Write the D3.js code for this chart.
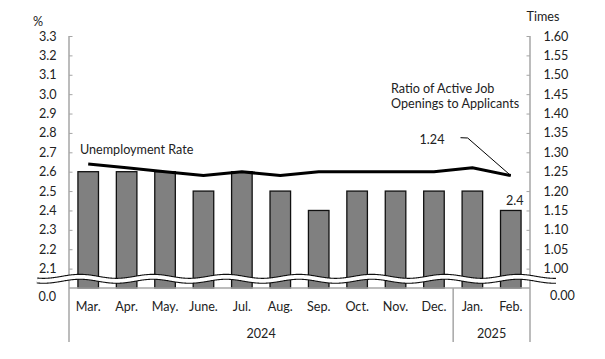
<!DOCTYPE html>
<html><head><meta charset="utf-8">
<script src="https://cdn.jsdelivr.net/npm/d3@7"></script>
<style>
html,body{margin:0;padding:0;background:#fff;}
text{font-family:Lato,"Open Sans",sans-serif;fill:#222;}
</style></head>
<body>
<svg id="c" width="605" height="359"></svg>
<script>
const months = ["Mar.","Apr.","May.","June.","Jul.","Aug.","Sep.","Oct.","Nov.","Dec.","Jan.","Feb."];
const years = [{label:"2024", from:0, to:9},{label:"2025", from:10, to:11}];
const unemployment = [2.6,2.6,2.6,2.5,2.6,2.5,2.4,2.5,2.5,2.5,2.5,2.4];
const ratio = [1.27,1.26,1.25,1.24,1.25,1.24,1.25,1.25,1.25,1.25,1.26,1.24];
const leftTicks = [2.1,2.2,2.3,2.4,2.5,2.6,2.7,2.8,2.9,3.0,3.1,3.2,3.3];
const rightTicks = [1.00,1.05,1.10,1.15,1.20,1.25,1.30,1.35,1.40,1.45,1.50,1.55,1.60];

const FS = "12.6px";
const svg = d3.select("#c");
const L = 69, R = 530, T = 36, B = 288, bottomExt = 342;
const axisColor = "#a6a6a6";

const x = d3.scaleBand().domain(months).range([L, R]).paddingInner(0.465).paddingOuter(0.2325);
const xc = d3.scaleBand().domain(months).range([L, R]).padding(0);
const yL = d3.scaleLinear().domain([2.0, 3.3]).range([B, T]);
const yR = d3.scaleLinear().domain([0.95, 1.60]).range([B, T]);

// bars
svg.append("g").selectAll("rect").data(unemployment).join("rect")
  .attr("x", (d,i)=>x(months[i])).attr("width", x.bandwidth())
  .attr("y", d=>yL(d)).attr("height", d=>B - yL(d))
  .attr("fill", "#808080").attr("stroke", "#111").attr("stroke-width", 1.3);

// left axis
const gL = svg.append("g").attr("transform", `translate(${L},0)`)
  .call(d3.axisRight(yL).tickValues(leftTicks).tickSize(3.5).tickFormat(d3.format(".1f")));
gL.select(".domain").remove();
gL.selectAll(".tick line").attr("stroke", axisColor);
gL.selectAll(".tick text").attr("x", -12.5).attr("text-anchor", "end")
  .style("font-size", FS).attr("fill", "#222");
svg.append("line").attr("x1", L).attr("x2", L).attr("y1", T).attr("y2", bottomExt)
  .attr("stroke", axisColor).attr("stroke-width", 1.5);

// right axis
const gR = svg.append("g").attr("transform", `translate(${R},0)`)
  .call(d3.axisLeft(yR).tickValues(rightTicks).tickSize(3.5).tickFormat(d3.format(".2f")));
gR.select(".domain").remove();
gR.selectAll(".tick line").attr("stroke", axisColor);
gR.selectAll(".tick text").attr("x", 13.5).attr("text-anchor", "start")
  .style("font-size", FS).attr("fill", "#222");
svg.append("line").attr("x1", R).attr("x2", R).attr("y1", T).attr("y2", bottomExt)
  .attr("stroke", axisColor).attr("stroke-width", 1.5);

// baseline and separator
svg.append("line").attr("x1", L).attr("x2", R).attr("y1", B).attr("y2", B)
  .attr("stroke", axisColor).attr("stroke-width", 1.5);
svg.append("line").attr("x1", xc(months[10])).attr("x2", xc(months[10])).attr("y1", B).attr("y2", bottomExt)
  .attr("stroke", axisColor).attr("stroke-width", 1.5);

// zero labels
svg.append("text").attr("x", 56).attr("y", 297).attr("dy", "0.35em").attr("text-anchor", "end")
  .style("font-size", FS).text("0.0");
svg.append("text").attr("x", 550).attr("y", 296).attr("dy", "0.35em").attr("text-anchor", "start")
  .style("font-size", FS).text("0.00");

// wavy break
const waveX0 = 37, waveX1 = 556, period = 73, peakX = 80, amp = 2, cy = 278.8;
const wavePts = d3.range(waveX0, waveX1 + 0.5, 1).map(px => [px, cy - amp * Math.cos(2*Math.PI*(px - peakX)/period)]);
const waveLine = d3.line().curve(d3.curveBasis);
svg.append("path").attr("d", waveLine(wavePts)).attr("fill", "none").attr("stroke", "#111").attr("stroke-width", 6);
svg.append("path").attr("d", waveLine(wavePts)).attr("fill", "none").attr("stroke", "#fff").attr("stroke-width", 3.8);

// ratio line
const line = d3.line().x((d,i)=>xc(months[i]) + xc.bandwidth()/2).y(d=>yR(d));
svg.append("path").datum(ratio).attr("d", line).attr("fill", "none")
  .attr("stroke", "#000").attr("stroke-width", 3).attr("stroke-linejoin", "round");

// category labels
svg.append("g").selectAll("text").data(months).join("text")
  .attr("x", d=>xc(d) + xc.bandwidth()/2).attr("y", 307).attr("dy", "0.35em")
  .attr("text-anchor", "middle").style("font-size", FS).text(d=>d);
svg.append("g").selectAll("text").data(years).join("text")
  .attr("x", d=>(xc(months[d.from]) + xc(months[d.to]) + xc.bandwidth())/2).attr("y", 334).attr("dy", "0.35em")
  .attr("text-anchor", "middle").style("font-size", FS).text(d=>d.label);

// unit labels
svg.append("text").attr("x", 38).attr("y", 22).attr("dy", "0.35em").attr("text-anchor", "middle")
  .style("font-size", FS).text("%");
svg.append("text").attr("x", 543).attr("y", 17).attr("dy", "0.35em").attr("text-anchor", "middle")
  .style("font-size", FS).text("Times");

// annotations
svg.append("text").attr("x", 80).attr("y", 149.5).attr("dy", "0.35em")
  .style("font-size", FS).text("Unemployment Rate");
const rl = svg.append("text").attr("x", 391).attr("y", 88.3).attr("dy", "0.35em").style("font-size", FS);
rl.append("tspan").attr("x", 391).text("Ratio of Active Job");
rl.append("tspan").attr("x", 391).attr("dy", 15).text("Openings to Applicants");

const lastI = ratio.length - 1;
const lastX = xc(months[lastI]) + xc.bandwidth()/2;
svg.append("text").attr("x", 432).attr("y", 140).attr("dy", "0.35em").attr("text-anchor", "middle")
  .style("font-size", FS).text(d3.format(".2f")(ratio[lastI]));
svg.append("path").attr("d", `M460.5,137.7 L467.7,138 L${lastX},${yR(ratio[lastI])}`)
  .attr("fill", "none").attr("stroke", "#000").attr("stroke-width", 1);

svg.append("text").attr("x", x(months[lastI]) + x.bandwidth()/2 + 4).attr("y", 201).attr("dy", "0.35em")
  .attr("text-anchor", "middle").style("font-size", FS).text(d3.format(".1f")(unemployment[lastI]));
</script>
</body></html>
